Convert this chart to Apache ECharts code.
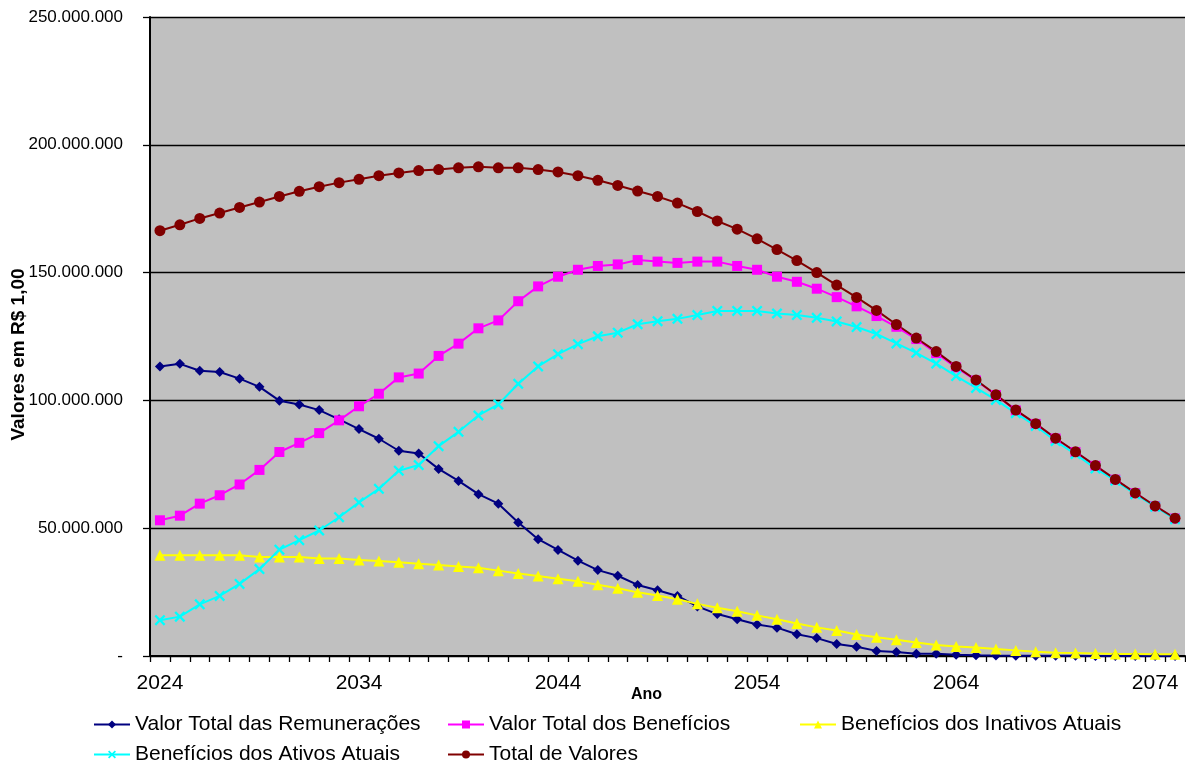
<!DOCTYPE html>
<html><head><meta charset="utf-8">
<script src="https://cdn.jsdelivr.net/npm/echarts@6/dist/echarts.min.js"></script>
<style>html,body{margin:0;padding:0;background:#fff}#c{width:1186px;height:767px}</style>
</head><body><div id="c"></div>
<script>
const years = ['2024','2025','2026','2027','2028','2029','2030','2031','2032','2033','2034','2035','2036','2037','2038','2039','2040','2041','2042','2043','2044','2045','2046','2047','2048','2049','2050','2051','2052','2053','2054','2055','2056','2057','2058','2059','2060','2061','2062','2063','2064','2065','2066','2067','2068','2069','2070','2071','2072','2073','2074','2075'];
// values in millions of R$
const remuneracoes = [113.3,114.3,111.6,111.1,108.5,105.3,99.9,98.4,96.2,92.6,88.8,85.0,80.3,79.2,73.2,68.5,63.3,59.6,52.2,45.7,41.5,37.3,33.6,31.4,27.8,25.7,23.5,19.4,16.4,14.4,12.3,11.1,8.5,7.0,4.7,3.6,2.0,1.6,0.9,0.9,0.5,0.3,0.15,0.1,0.08,0.06,0.05,0.04,0.03,0.02,0.02,0.01];
const beneficios = [53.1,54.9,59.6,62.9,67.1,72.8,79.8,83.4,87.2,92.2,97.7,102.6,109.0,110.5,117.4,122.2,128.2,131.3,138.8,144.6,148.4,151.1,152.6,153.2,154.9,154.3,153.8,154.3,154.3,152.6,151.1,148.4,146.4,143.7,140.4,136.8,133.0,128.8,124.0,118.5,112.9,107.8,102.1,96.1,90.8,85.1,79.8,74.4,69.0,63.7,58.6,53.8];
const inativos = [39.4,39.4,39.4,39.4,39.4,38.7,38.7,38.7,38.1,38.1,37.6,37.2,36.7,36.1,35.6,35.0,34.5,33.4,32.3,31.3,30.2,29.2,27.9,26.5,24.9,23.7,22.2,20.4,18.9,17.5,15.9,14.4,12.7,11.2,10.0,8.4,7.3,6.4,5.3,4.3,3.7,3.3,2.7,2.2,1.7,1.3,1.2,1.0,0.8,0.8,0.7,0.7];
const ativos = [14.0,15.4,20.2,23.5,28.2,34.0,41.6,45.3,49.1,54.3,60.1,65.4,72.5,74.7,82.1,87.7,94.1,98.4,106.5,113.3,118.1,122.0,125.1,126.5,129.8,131.0,131.9,133.4,135.0,135.0,135.0,134.0,133.4,132.3,130.9,128.7,126.0,122.3,118.6,114.4,109.5,104.9,100.2,95.0,90.0,84.1,79.0,73.4,68.6,63.3,58.4,53.5];
const total = [166.4,168.7,171.2,173.3,175.5,177.6,179.8,181.8,183.6,185.2,186.5,187.9,189.0,189.9,190.3,191.0,191.4,191.0,191.0,190.3,189.4,187.9,186.1,184.1,181.9,179.8,177.2,173.9,170.2,167.0,163.2,159.0,154.7,150.0,145.1,140.3,135.2,129.7,124.4,119.1,113.3,108.0,102.2,96.2,90.9,85.2,79.9,74.5,69.1,63.8,58.7,53.9];

const names = ['Valor Total das Remunerações','Valor Total dos Benefícios','Benefícios dos Inativos Atuais','Benefícios dos Ativos Atuais','Total de Valores'];
const M = v => v.map(x => x*1e6);
const xSym = 'path://M1.5,0 L5,3.5 L8.5,0 L10,1.5 L6.5,5 L10,8.5 L8.5,10 L5,6.5 L1.5,10 L0,8.5 L3.5,5 L0,1.5 Z';
function fmt(v){ if(v===0) return '-'; return String(Math.round(v)).replace(/\B(?=(\d{3})+(?!\d))/g,'.'); }
function ser(name, data, color, symbol, size){
  return {name, type:'line', data:M(data), symbol, symbolSize:size, showSymbol:true,
    lineStyle:{color, width:2}, itemStyle:{color}, emphasis:{disabled:true}, animation:false, z:3};
}
const chart = echarts.init(document.getElementById('c'), null, {renderer:'canvas'});
function leg(name, left, top){
  return {orient:'horizontal', left, top, itemWidth:36, itemHeight:10, data:[name], selectedMode:false,
    textStyle:{fontFamily:'Liberation Sans, Arial', fontSize:21, color:'#000'}};
}
chart.setOption({
  backgroundColor:'#fff',
  animation:false,
  grid:{left:150, right:1, top:17, bottom:111, show:true, backgroundColor:'#C0C0C0', borderWidth:0, outerBoundsMode:'none', containLabel:false},
  legend:[
    leg(names[0], 88, 709),
    leg(names[3], 88, 739),
    leg(names[1], 442, 709),
    leg(names[4], 442, 739),
    leg(names[2], 794, 709)
  ],
  xAxis:{type:'category', data:years, boundaryGap:true,
    axisLine:{lineStyle:{color:'#000', width:2}},
    axisTick:{show:true, interval:0, length:6, lineStyle:{color:'#000', width:1.3}},
    axisLabel:{interval:9, fontFamily:'Liberation Sans, Arial', fontSize:21, color:'#000', margin:17},
    name:'Ano', nameLocation:'middle', nameGap:31, nameMoveOverlap:false,
    nameTextStyle:{fontFamily:'Liberation Sans, Arial', fontWeight:'bold', fontSize:16, color:'#000', padding:[0,42,0,0]},
    splitLine:{show:false}},
  yAxis:{type:'value', min:0, max:250000000, interval:50000000,
    axisLine:{show:true, lineStyle:{color:'#000', width:2}},
    axisTick:{show:true, length:7, lineStyle:{color:'#000', width:1.3}},
    axisLabel:{formatter:fmt, fontFamily:'Liberation Sans, Arial', fontSize:17, color:'#000', margin:27},
    splitLine:{show:true, lineStyle:{color:'#000', width:1.3}},
    name:'Valores em R$ 1,00', nameLocation:'middle', nameGap:122, nameMoveOverlap:false,
    nameTextStyle:{fontFamily:'Liberation Sans, Arial', fontWeight:'bold', fontSize:19, color:'#000', padding:[0,36,0,0]}},
  series:[
    ser(names[0], remuneracoes, '#000080', 'diamond', 10),
    ser(names[1], beneficios, '#FF00FF', 'rect', 10),
    ser(names[2], inativos, '#FFFF00', 'triangle', 11),
    ser(names[3], ativos, '#00FFFF', xSym, 11),
    ser(names[4], total, '#800000', 'circle', 11)
  ]
});
</script></body></html>
